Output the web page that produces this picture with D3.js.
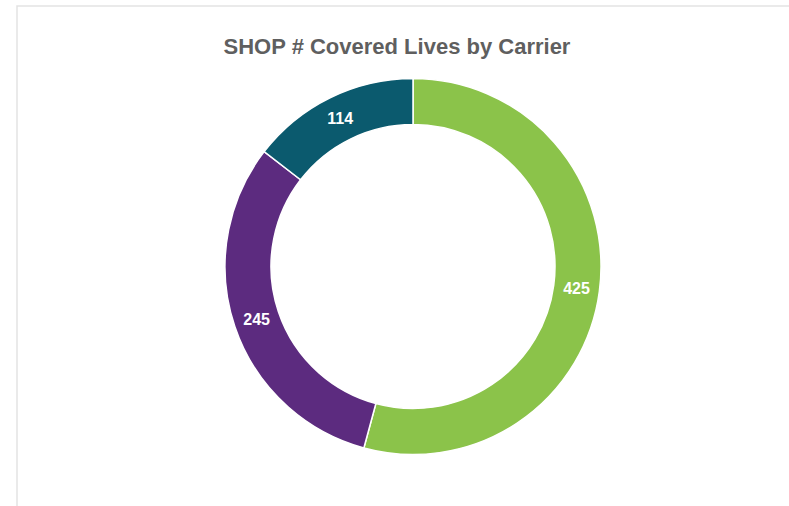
<!DOCTYPE html>
<html>
<head>
<meta charset="utf-8">
<script src="https://cdn.jsdelivr.net/npm/d3@7"></script>
<style>
  body { margin: 0; background: #fff; }
  svg { display: block; }
</style>
</head>
<body>
<script>
// donnees
var carriers = ["Carrier A", "Carrier B", "Carrier C"];
var lives = [425, 245, 114];
var colors = ["#8bc34a", "#5c2b7f", "#0b5a6e"];

var width = 789, height = 506;
var cx = 413, cy = 266.5;
var outerR = 188, innerR = 142;

var svg = d3.select("body").append("svg").attr("width", width).attr("height", height);

// cadre du graphique
svg.append("rect")
  .attr("x", 17).attr("y", 6)
  .attr("width", width).attr("height", height)
  .attr("fill", "#fff")
  .attr("stroke", "#e3e3e3")
  .attr("stroke-width", 1.5);

svg.append("text")
  .attr("x", 397).attr("y", 54)
  .attr("text-anchor", "middle")
  .attr("font-family", "Liberation Sans, Arial, sans-serif")
  .attr("font-weight", "bold")
  .attr("font-size", 22)
  .attr("fill", "#5f5f5f")
  .text("SHOP # Covered Lives by Carrier");

var data = carriers.map(function(c, i) { return { name: c, value: lives[i], color: colors[i] }; });

var pie = d3.pie().value(function(d) { return d.value; }).sort(null);
var arc = d3.arc().innerRadius(innerR).outerRadius(outerR);
var labelArc = d3.arc().innerRadius((innerR + outerR) / 2).outerRadius((innerR + outerR) / 2);

var g = svg.append("g").attr("transform", "translate(" + cx + "," + cy + ")");
var arcs = pie(data);

g.selectAll("path").data(arcs).enter().append("path")
  .attr("d", arc)
  .attr("fill", function(d) { return d.data.color; })
  .attr("stroke", "#fff")
  .attr("stroke-width", 1.5);

g.selectAll("text").data(arcs).enter().append("text")
  .attr("transform", function(d) { return "translate(" + labelArc.centroid(d) + ")"; })
  .attr("text-anchor", "middle")
  .attr("dy", "0.36em")
  .attr("font-family", "Liberation Sans, Arial, sans-serif")
  .attr("font-weight", "bold")
  .attr("font-size", 16)
  .attr("fill", "#fff")
  .text(function(d) { return d.data.value; });
</script>
</body>
</html>
